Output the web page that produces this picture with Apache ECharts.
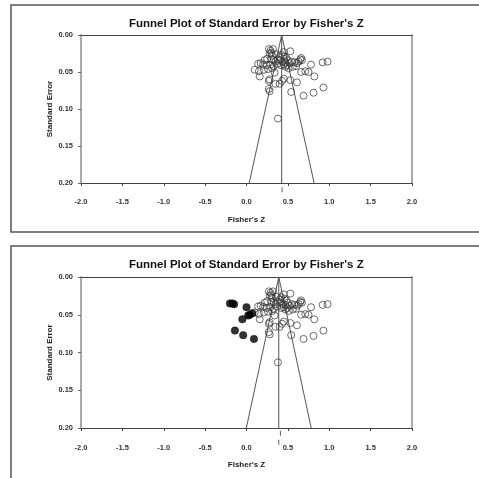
<!DOCTYPE html>
<html><head><meta charset="utf-8">
<script src="https://cdn.jsdelivr.net/npm/echarts@6/dist/echarts.min.js"></script>
<style>html,body{margin:0;padding:0;background:#fff}#c{width:479px;height:478px}</style>
</head><body><div id="c"></div>
<script>
// Observed studies (Fisher's Z, Standard Error) - open circles
const observedStudies = [
  [0.27,0.019],[0.29,0.021],[0.30,0.024],[0.32,0.019],[0.28,0.025],[0.31,0.028],[0.36,0.026],
  [0.40,0.030],[0.42,0.027],[0.45,0.023],[0.53,0.022],[0.46,0.029],[0.48,0.031],[0.50,0.034],
  [0.47,0.037],[0.44,0.036],[0.41,0.034],[0.38,0.033],[0.35,0.036],[0.33,0.034],[0.30,0.033],
  [0.25,0.032],[0.22,0.034],[0.17,0.038],[0.14,0.039],[0.20,0.040],[0.24,0.041],[0.29,0.040],
  [0.33,0.042],[0.37,0.039],[0.45,0.040],[0.49,0.041],[0.52,0.038],[0.55,0.036],[0.58,0.037],
  [0.61,0.038],[0.63,0.036],[0.65,0.033],[0.66,0.031],[0.67,0.034],[0.60,0.042],[0.56,0.043],
  [0.51,0.045],[0.47,0.043],[0.42,0.041],[0.10,0.047],[0.15,0.049],[0.21,0.047],[0.26,0.046],
  [0.31,0.045],[0.34,0.051],[0.16,0.056],[0.27,0.062],[0.28,0.060],[0.78,0.040],[0.92,0.037],
  [0.98,0.036],[0.71,0.049],[0.75,0.050],[0.66,0.050],[0.82,0.056],[0.93,0.071],[0.81,0.078],
  [0.69,0.082],[0.54,0.077],[0.61,0.064],[0.53,0.061],[0.45,0.059],[0.43,0.062],[0.40,0.066],
  [0.35,0.066],[0.28,0.076],[0.27,0.073],[0.38,0.113]
];
// Imputed studies (trim and fill) - filled circles, bottom panel only
const imputedStudies = [
  [-0.20,0.035],[-0.17,0.035],[-0.15,0.036],[0.00,0.040],[0.07,0.048],[0.04,0.050],
  [0.02,0.051],[-0.05,0.056],[-0.14,0.071],[-0.04,0.077],[0.09,0.082]
];
// Funnel lines (mean +/- 1.96 SE)
const funnelTop = [[0.033,0.2],[0.425,0],[0.817,0.2]];
const meanLineTop = [[0.425,0],[0.425,0.2]];
const funnelBottom = [[-0.002,0.2],[0.39,0],[0.782,0.2]];
const meanLineBottom = [[0.39,0],[0.39,0.2]];
// Summary markers below the axis
const summaryTop = [[0.43,0.209]];
const summaryBottom = [[0.41,0.207],[0.39,0.219]];
const xTicks = [-2.0,-1.5,-1.0,-0.5,0.0,0.5,1.0,1.5,2.0];
const yTicks = [0.00,0.05,0.10,0.15,0.20];
const titleText = "Funnel Plot of Standard Error by Fisher's Z";
const xName = "Fisher's Z";
const yName = "Standard Error";

const FONT = 'Liberation Sans, Arial, sans-serif';
const chart = echarts.init(document.getElementById('c'), null, {renderer:'canvas'});

function xAxisDef(gi, margin){
  return {
    gridIndex: gi, type:'value', min: xTicks[0], max: xTicks[xTicks.length-1], interval: 0.5,
    position:'bottom',
    name: xName, nameLocation:'middle', nameGap: 33, nameMoveOverlap:false,
    nameTextStyle:{fontFamily:FONT,fontWeight:'bold',fontSize:8,color:'#222'},
    axisLine:{show:true,onZero:false,lineStyle:{color:'#444',width:1}},
    axisTick:{show:true,length:3,lineStyle:{color:'#444'}},
    axisLabel:{margin:margin,fontFamily:FONT,fontWeight:'bold',fontSize:7.5,color:'#333',
      formatter:v=>v.toFixed(1)},
    splitLine:{show:false}
  };
}
function xTopDef(gi){
  return {gridIndex:gi,type:'value',min:-2,max:2,position:'top',
    axisLine:{show:true,onZero:false,lineStyle:{color:'#444',width:1}},
    axisTick:{show:false},axisLabel:{show:false},splitLine:{show:false}};
}
function yAxisDef(gi){
  return {
    gridIndex: gi, type:'value', inverse:true, min: yTicks[0], max: yTicks[yTicks.length-1], interval:0.05,
    name: yName, nameLocation:'middle', nameGap: 27, nameMoveOverlap:false,
    nameTextStyle:{fontFamily:FONT,fontWeight:'bold',fontSize:8,color:'#222'},
    axisLine:{show:true,onZero:false,lineStyle:{color:'#aaa',width:2}},
    axisTick:{show:true,length:3,lineStyle:{color:'#666'}},
    axisLabel:{margin:8,fontFamily:FONT,fontWeight:'bold',fontSize:7.5,color:'#333',
      formatter:v=>v.toFixed(2)},
    splitLine:{show:false}
  };
}
function yRightDef(gi){
  return {gridIndex:gi,type:'value',inverse:true,min:0,max:0.2,position:'right',
    axisLine:{show:true,onZero:false,lineStyle:{color:'#aaa',width:2}},
    axisTick:{show:false},axisLabel:{show:false},splitLine:{show:false}};
}
const lineStyle = {color:'#555',width:1};
function lineSeries(xi, yi, data){
  return {type:'line',xAxisIndex:xi,yAxisIndex:yi,data:data,symbol:'none',
    lineStyle:lineStyle,silent:true,animation:false,clip:false,z:1};
}
const openStyle = {color:'rgba(0,0,0,0)',borderColor:'#333',borderWidth:0.9};
const option = {
  backgroundColor:'#fff',
  animation:false,
  title:[
    {text:titleText,left:129,top:18,padding:0,
      textStyle:{fontFamily:FONT,fontWeight:'bold',fontSize:11.5,color:'#111'}},
    {text:titleText,left:129,top:259,padding:0,
      textStyle:{fontFamily:FONT,fontWeight:'bold',fontSize:11.5,color:'#111'}}
  ],
  graphic:[
    {type:'polyline',shape:{points:[[490,5],[11,5],[11,232],[490,232]]},
      style:{stroke:'#555',lineWidth:1.5,fill:null}},
    {type:'polyline',shape:{points:[[490,246],[11,246],[11,490]]},
      style:{stroke:'#555',lineWidth:1.5,fill:null}}
  ],
  grid:[
    {left:81,top:35,width:331,height:148},
    {left:81,top:277,width:331,height:151}
  ],
  xAxis:[xAxisDef(0,15), xTopDef(0), xAxisDef(1,16), xTopDef(1)],
  yAxis:[yAxisDef(0), yRightDef(0), yAxisDef(1), yRightDef(1)],
  series:[
    lineSeries(0,0,funnelTop),
    lineSeries(0,0,meanLineTop),
    {type:'scatter',xAxisIndex:0,yAxisIndex:0,data:observedStudies,symbol:'circle',symbolSize:7,
      itemStyle:openStyle,z:3},
    {type:'scatter',xAxisIndex:0,yAxisIndex:0,data:summaryTop,symbol:'rect',symbolSize:[1,5],
      itemStyle:{color:'#333'},clip:false,z:3},
    lineSeries(2,2,funnelBottom),
    lineSeries(2,2,meanLineBottom),
    {type:'scatter',xAxisIndex:2,yAxisIndex:2,data:observedStudies,symbol:'circle',symbolSize:7,
      itemStyle:openStyle,z:3},
    {type:'scatter',xAxisIndex:2,yAxisIndex:2,data:imputedStudies,symbol:'circle',symbolSize:7.5,
      itemStyle:{color:'#000',borderColor:'#000',borderWidth:0.5},z:4},
    {type:'scatter',xAxisIndex:2,yAxisIndex:2,data:summaryBottom,symbol:'rect',symbolSize:[1,5],
      itemStyle:{color:'#333'},clip:false,z:3}
  ]
};
chart.setOption(option);
</script></body></html>
